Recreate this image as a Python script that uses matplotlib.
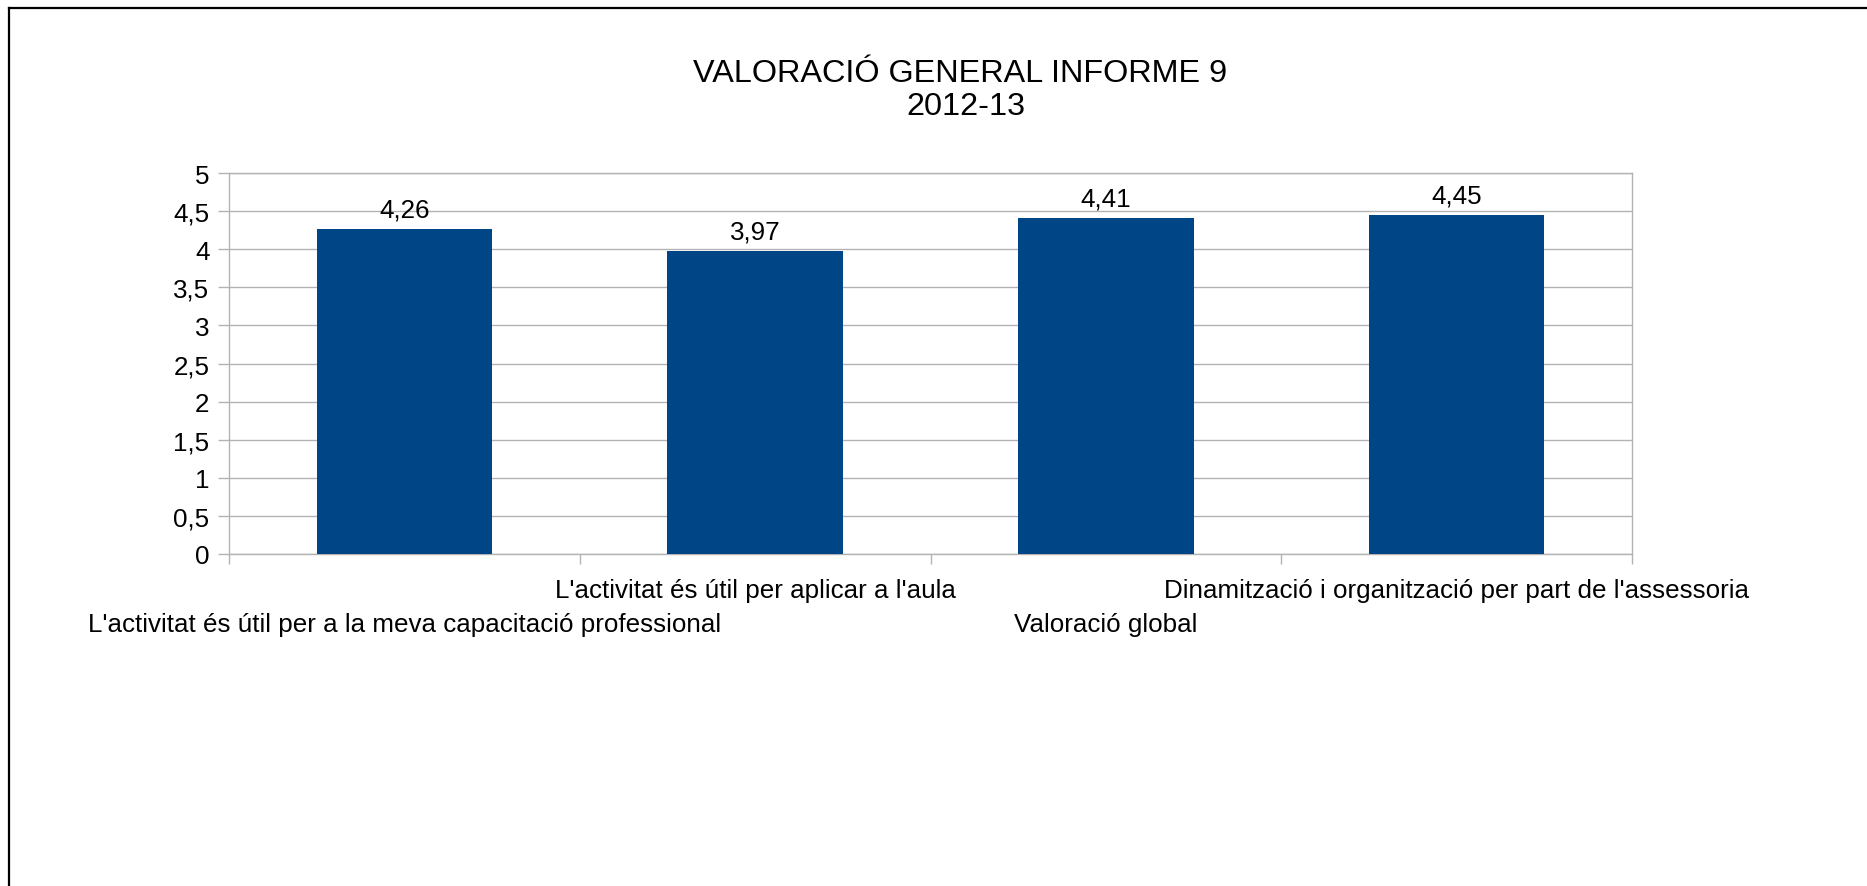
import matplotlib
matplotlib.use("Agg")
import matplotlib.pyplot as plt
from matplotlib.lines import Line2D
from matplotlib.ticker import FuncFormatter, FixedLocator

plt.rcParams['font.family'] = ['Liberation Sans', 'DejaVu Sans']

title_lines = ["VALORACIÓ GENERAL INFORME 9", "2012-13"]
categories = [
    "L'activitat és útil per a la meva capacitació professional",
    "L'activitat és útil per aplicar a l'aula",
    "Valoració global",
    "Dinamització i organització per part de l'assessoria",
]
values = [4.26, 3.97, 4.41, 4.45]
y_ticks = [0, 0.5, 1, 1.5, 2, 2.5, 3, 3.5, 4, 4.5, 5]

BAR = "#004586"
GRID = "#b3b3b3"
FS = 18.7

def comma(v, pos=None):
    s = ("%g" % v)
    return s.replace(".", ",")

fig = plt.figure(figsize=(18.67, 8.87), dpi=100)
W, H = 1867, 887
ax = fig.add_axes([229 / W, 1 - 555 / H, (1632 - 229) / W, (555 - 174) / H])

centers = [i + 0.5 for i in range(len(categories))]
bars = ax.bar(centers, values, width=0.5, color=BAR, zorder=3)

ax.set_xlim(0, len(categories))
ax.set_ylim(0, 5)
ax.yaxis.set_major_locator(FixedLocator(y_ticks))
ax.yaxis.set_major_formatter(FuncFormatter(comma))
ax.grid(axis='y', color=GRID, linewidth=1.0, zorder=0)
ax.set_axisbelow(True)
for s in ax.spines.values():
    s.set_color(GRID)
    s.set_linewidth(1.0)

ax.tick_params(axis='y', direction='out', length=8, width=1.0, color=GRID,
               labelsize=FS, pad=6, labelcolor='black')

# category boundaries as major x ticks, labels on minor ticks at the centers
ax.set_xticks(range(len(categories) + 1))
ax.set_xticklabels([])
ax.tick_params(axis='x', which='major', direction='out', length=7.5, width=1.0, color=GRID)
ax.set_xticks(centers, minor=True)
ax.set_xticklabels(categories, minor=True)
ax.tick_params(axis='x', which='minor', length=0, labelsize=FS, labelcolor='black')
for i, t in enumerate(ax.xaxis.get_minor_ticks()):
    t.set_pad(42 if i % 2 == 0 else 17)

for b, v in zip(bars, values):
    ax.annotate(comma(v), (b.get_x() + b.get_width() / 2, v),
                xytext=(0, 5.5), textcoords='offset points',
                ha='center', va='bottom', fontsize=FS)

fig.text(960.5 / W, 1 - 74 / H, title_lines[0], ha='center', va='center', fontsize=23.3)
fig.text(966 / W, 1 - 107 / H, title_lines[1], ha='center', va='center', fontsize=23.3)

# outer frame (top and left edges visible)
fig.add_artist(Line2D([9 / W, 1.0], [1 - 9 / H, 1 - 9 / H], color='black', linewidth=1.6,
                      transform=fig.transFigure))
fig.add_artist(Line2D([9 / W, 9 / W], [0.0, 1 - 9 / H], color='black', linewidth=1.6,
                      transform=fig.transFigure))

fig.savefig("out.png", dpi=100, facecolor='white')
